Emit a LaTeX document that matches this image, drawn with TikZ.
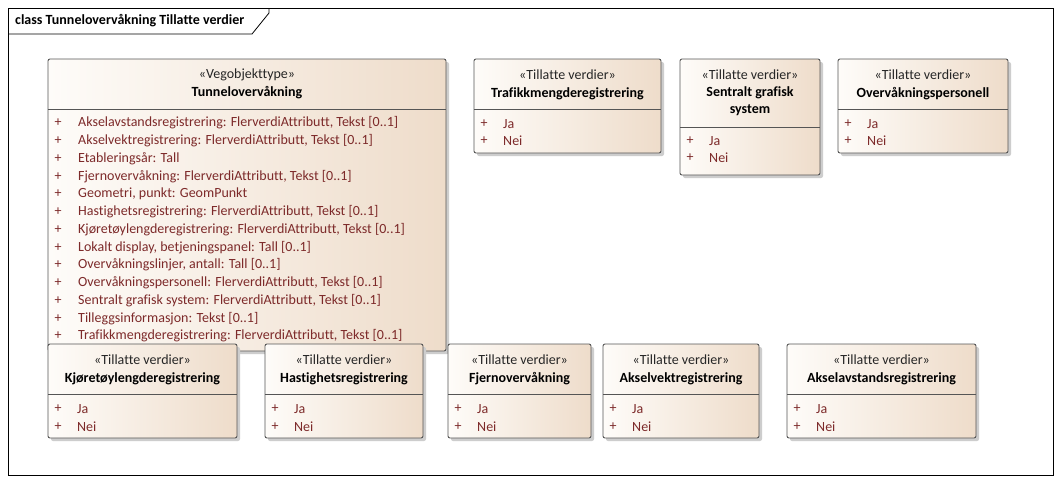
\documentclass[tikz,border=0pt]{standalone}
\usepackage{fontspec}
\setmainfont{Carlito}[Ligatures=NoCommon]
\usetikzlibrary{calc}
\definecolor{boxl}{RGB}{254,252,249}
\definecolor{boxr}{RGB}{238,220,202}
\definecolor{attr}{RGB}{125,42,42}
\definecolor{edge}{RGB}{85,85,85}
\definecolor{shadow}{RGB}{205,205,205}
\tikzset{
  boxshade/.style={left color=boxl,right color=boxr,draw=edge,rounded corners=2pt,line width=0.9pt},
  boxshadow/.style={fill=shadow,rounded corners=2pt},
  divline/.style={draw=edge,line width=0.9pt},
  stereo/.style={font=\fontsize{14}{17}\selectfont,text=black!85,inner sep=0pt},
  cname/.style={font=\bfseries\fontsize{14}{17}\selectfont,align=center,inner sep=0pt},
  plus/.style={font=\fontsize{14}{17}\selectfont,text=attr,inner sep=0pt},
  attrtext/.style={font=\fontsize{14}{17}\selectfont,text=attr,anchor=west,inner sep=0pt}
}
\begin{document}
\begin{tikzpicture}[x=1pt,y=-1pt]
        \useasboundingbox (0,0) rectangle (1062,483);
        % frame
        \fill[white] (0,0) rectangle (1062,483);
        \draw[line width=0.8pt] (8,8) rectangle (1053,475);
        \draw[line width=0.8pt] (8,34) -- (252,34) -- (269,13) -- (269,8);
        \node[font=\bfseries\fontsize{14}{17}\selectfont,anchor=west,inner sep=0pt] (title) at (15,21) {class Tunnelovervåkning Tillatte verdier};
        % Tunnelovervaakning
        \fill[boxshadow] (51,62) rectangle (449,354);
        \shadedraw[boxshade] (48,59) rectangle (446,351);
        \draw[divline] (48,109) -- (446,109);
        \node[stereo] (mains) at (247,75) {«Vegobjekttype»};
        \node[cname] (mainn) at (247,93) {Tunnelovervåkning};
        \node[plus] (mp1) at (58,123) {+};
        \node[plus] (mp2) at (58,140.75) {+};
        \node[plus] (mp3) at (58,158.5) {+};
        \node[plus] (mp4) at (58,176.25) {+};
        \node[plus] (mp5) at (58,194) {+};
        \node[plus] (mp6) at (58,211.75) {+};
        \node[plus] (mp7) at (58,229.5) {+};
        \node[plus] (mp8) at (58,247.25) {+};
        \node[plus] (mp9) at (58,265) {+};
        \node[plus] (mp10) at (58,282.75) {+};
        \node[plus] (mp11) at (58,300.5) {+};
        \node[plus] (mp12) at (58,318.25) {+};
        \node[plus] (mp13) at (58,336) {+};
        \node[attrtext] (ma1) at (78,123) {Akselavstandsregistrering: FlerverdiAttributt, Tekst [0..1]};
        \node[attrtext] (ma2) at (78,140.75) {Akselvektregistrering: FlerverdiAttributt, Tekst [0..1]};
        \node[attrtext] (ma3) at (78,158.5) {Etableringsår: Tall};
        \node[attrtext] (ma4) at (78,176.25) {Fjernovervåkning: FlerverdiAttributt, Tekst [0..1]};
        \node[attrtext] (ma5) at (78,194) {Geometri, punkt: GeomPunkt};
        \node[attrtext] (ma6) at (78,211.75) {Hastighetsregistrering: FlerverdiAttributt, Tekst [0..1]};
        \node[attrtext] (ma7) at (78,229.5) {Kjøretøylengderegistrering: FlerverdiAttributt, Tekst [0..1]};
        \node[attrtext] (ma8) at (78,247.25) {Lokalt display, betjeningspanel: Tall [0..1]};
        \node[attrtext] (ma9) at (78,265) {Overvåkningslinjer, antall: Tall [0..1]};
        \node[attrtext] (ma10) at (78,282.75) {Overvåkningspersonell: FlerverdiAttributt, Tekst [0..1]};
        \node[attrtext] (ma11) at (78,300.5) {Sentralt grafisk system: FlerverdiAttributt, Tekst [0..1]};
        \node[attrtext] (ma12) at (78,318.25) {Tilleggsinformasjon: Tekst [0..1]};
        \node[attrtext] (ma13) at (78,336) {Trafikkmengderegistrering: FlerverdiAttributt, Tekst [0..1]};
        % Trafikkmengderegistrering
        \fill[boxshadow] (477,62) rectangle (664,156);
        \shadedraw[boxshade] (474,59) rectangle (661,153);
        \draw[divline] (474,109) -- (661,109);
        \node[stereo] (trafs) at (567.5,75) {«Tillatte verdier»};
        \node[cname] (trafn) at (567.5,94) {Trafikkmengderegistrering};
        \node[plus] (trafp1) at (484,124) {+};
        \node[plus] (trafp2) at (484,141) {+};
        \node[attrtext] (trafja) at (503,124) {Ja};
        \node[attrtext] (trafnei) at (503,141) {Nei};
        % Sentralt grafisk system
        \fill[boxshadow] (683,62) rectangle (823,178);
        \shadedraw[boxshade] (680,59) rectangle (820,175);
        \draw[divline] (680,127) -- (820,127);
        \node[stereo] (sents) at (750,75) {«Tillatte verdier»};
        \node[cname] (sentn) at (750,101.5) {Sentralt grafisk\\system};
        \node[plus] (sentp1) at (690,141) {+};
        \node[plus] (sentp2) at (690,158) {+};
        \node[attrtext] (sentja) at (709,141) {Ja};
        \node[attrtext] (sentnei) at (709,158) {Nei};
        % Overvaakningspersonell
        \fill[boxshadow] (841,62) rectangle (1011,156);
        \shadedraw[boxshade] (838,59) rectangle (1008,153);
        \draw[divline] (838,109) -- (1008,109);
        \node[stereo] (pers) at (923,75) {«Tillatte verdier»};
        \node[cname] (pern) at (923,94) {Overvåkningspersonell};
        \node[plus] (perp1) at (848,124) {+};
        \node[plus] (perp2) at (848,141) {+};
        \node[attrtext] (perja) at (867,124) {Ja};
        \node[attrtext] (pernei) at (867,141) {Nei};
        % Kjoretoylengderegistrering
        \fill[boxshadow] (51,347) rectangle (240,441);
        \shadedraw[boxshade] (48,344) rectangle (237,438);
        \draw[divline] (48,394) -- (237,394);
        \node[stereo] (kjos) at (142.5,360) {«Tillatte verdier»};
        \node[cname] (kjon) at (142.5,379) {Kjøretøylengderegistrering};
        \node[plus] (kjop1) at (58,409) {+};
        \node[plus] (kjop2) at (58,427) {+};
        \node[attrtext] (kjoja) at (77,409) {Ja};
        \node[attrtext] (kjonei) at (77,427) {Nei};
        % Hastighetsregistrering
        \fill[boxshadow] (268,347) rectangle (426,441);
        \shadedraw[boxshade] (265,344) rectangle (423,438);
        \draw[divline] (265,394) -- (423,394);
        \node[stereo] (hasts) at (344,360) {«Tillatte verdier»};
        \node[cname] (hastn) at (344,379) {Hastighetsregistrering};
        \node[plus] (hastp1) at (275,409) {+};
        \node[plus] (hastp2) at (275,427) {+};
        \node[attrtext] (hastja) at (294,409) {Ja};
        \node[attrtext] (hastnei) at (294,427) {Nei};
        % Fjernovervaakning
        \fill[boxshadow] (451,347) rectangle (594,441);
        \shadedraw[boxshade] (448,344) rectangle (591,438);
        \draw[divline] (448,394) -- (591,394);
        \node[stereo] (fjes) at (519.5,360) {«Tillatte verdier»};
        \node[cname] (fjen) at (519.5,379) {Fjernovervåkning};
        \node[plus] (fjep1) at (458,409) {+};
        \node[plus] (fjep2) at (458,427) {+};
        \node[attrtext] (fjeja) at (477,409) {Ja};
        \node[attrtext] (fjenei) at (477,427) {Nei};
        % Akselvektregistrering
        \fill[boxshadow] (606,347) rectangle (762,441);
        \shadedraw[boxshade] (603,344) rectangle (759,438);
        \draw[divline] (603,394) -- (759,394);
        \node[stereo] (vekts) at (681,360) {«Tillatte verdier»};
        \node[cname] (vektn) at (681,379) {Akselvektregistrering};
        \node[plus] (vektp1) at (613,409) {+};
        \node[plus] (vektp2) at (613,427) {+};
        \node[attrtext] (vektja) at (632,409) {Ja};
        \node[attrtext] (vektnei) at (632,427) {Nei};
        % Akselavstandsregistrering
        \fill[boxshadow] (790,347) rectangle (979,441);
        \shadedraw[boxshade] (787,344) rectangle (976,438);
        \draw[divline] (787,394) -- (976,394);
        \node[stereo] (avsts) at (881.5,360) {«Tillatte verdier»};
        \node[cname] (avstn) at (881.5,379) {Akselavstandsregistrering};
        \node[plus] (avstp1) at (797,409) {+};
        \node[plus] (avstp2) at (797,427) {+};
        \node[attrtext] (avstja) at (816,409) {Ja};
        \node[attrtext] (avstnei) at (816,427) {Nei};
      \end{tikzpicture}
\end{document}
